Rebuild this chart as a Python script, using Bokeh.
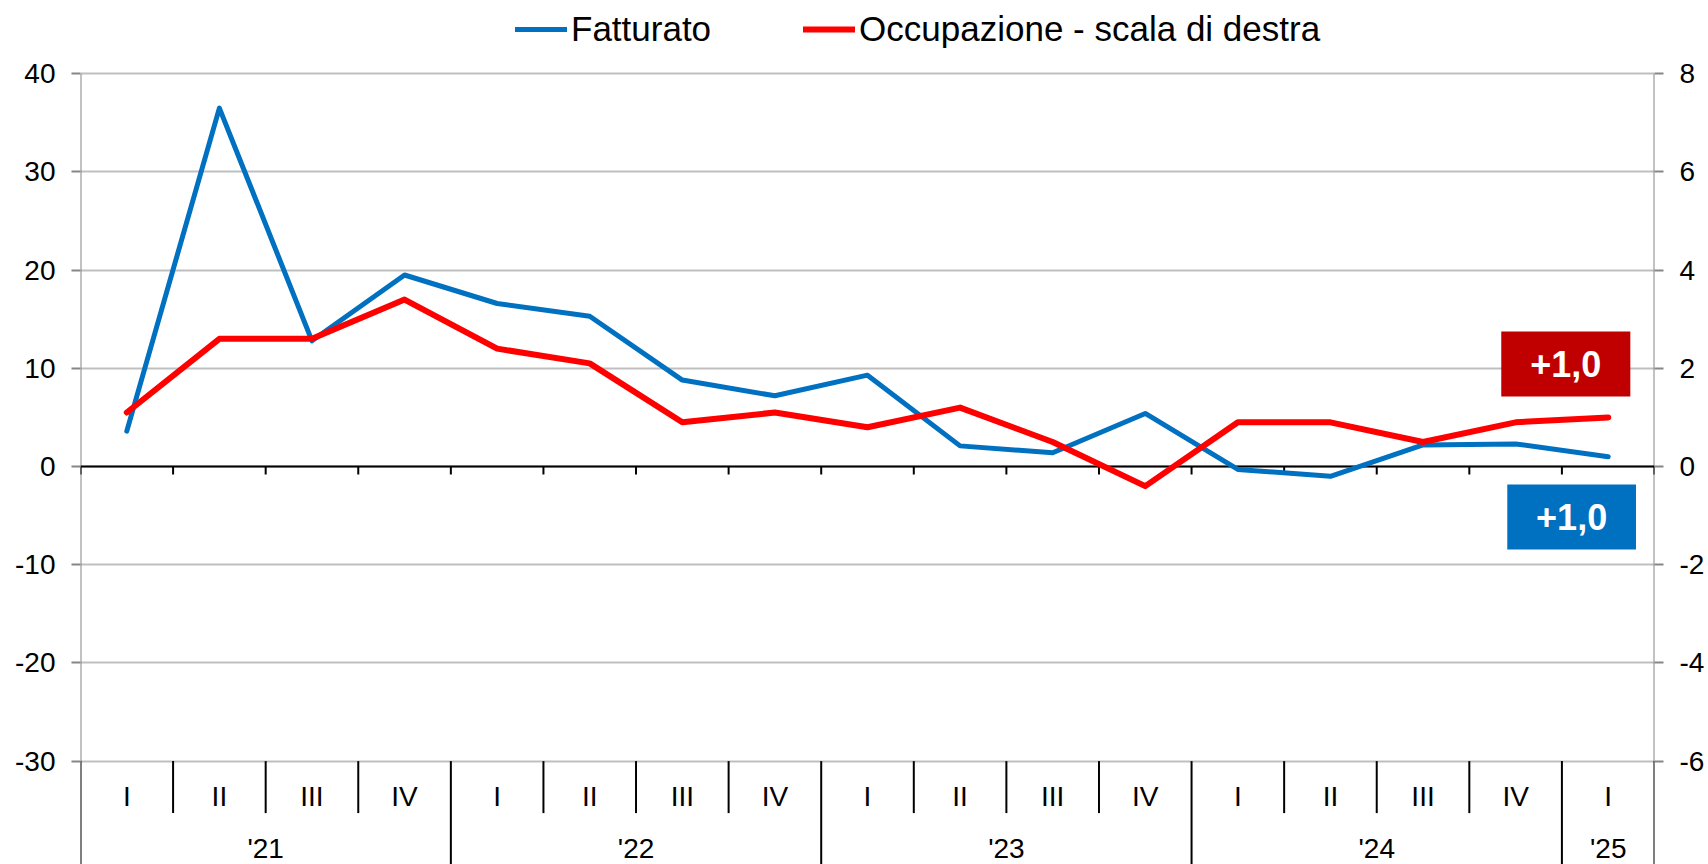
from bokeh.plotting import figure
from bokeh.models import (Range1d, LinearAxis, FixedTicker, ColumnDataSource,
                          Legend, LegendItem, BoxAnnotation, Label, PrintfTickFormatter)
from bokeh.core.properties import value
from bokeh.embed import file_html
from bokeh.resources import INLINE

# ---------------- data ----------------
quarters = ["I", "II", "III", "IV", "I", "II", "III", "IV", "I", "II", "III", "IV",
            "I", "II", "III", "IV", "I"]
years = ["'21", "'22", "'23", "'24", "'25"]
year_sizes = [4, 4, 4, 4, 1]
fatturato = [3.6, 36.5, 12.8, 19.5, 16.6, 15.3, 8.8, 7.2, 9.3, 2.1, 1.4, 5.4,
             -0.3, -1.0, 2.2, 2.3, 1.0]
occupazione = [1.1, 2.6, 2.6, 3.4, 2.4, 2.1, 0.9, 1.1, 0.8, 1.2, 0.5, -0.4,
               0.9, 0.9, 0.5, 0.9, 1.0]
left_ticks = [-30, -20, -10, 0, 10, 20, 30, 40]
right_ticks = [-6, -4, -2, 0, 2, 4, 6, 8]
series_names = ["Fatturato", "Occupazione - scala di destra"]

# ---------------- layout ----------------
W, H = 1708, 864
LEFT, RIGHT = 80, 54
PX = 9.82            # pixels per left-axis unit
ZERO = 466           # zero line, figure pixel coordinate from top
y_top = ZERO / PX
y_bot = -(H - ZERO) / PX
RATIO = 5.0          # left / right scale
FONT = "Liberation Sans"
BLUE = "#0070C0"
RED = "#FF0000"

n = len(quarters)
xs = [i + 0.5 for i in range(n)]

p = figure(width=W, height=H, output_backend="svg", toolbar_location=None,
           x_range=Range1d(0, n), y_range=Range1d(y_bot, y_top),
           x_axis_location=None, min_border_left=LEFT, min_border_right=RIGHT,
           min_border_top=0, min_border_bottom=0, outline_line_color=None,
           background_fill_color="white", border_fill_color="white")
p.extra_y_ranges = {"right": Range1d(y_bot / RATIO, y_top / RATIO)}

p.yaxis[0].ticker = FixedTicker(ticks=left_ticks)
rax = LinearAxis(y_range_name="right", ticker=FixedTicker(ticks=right_ticks))
p.add_layout(rax, "right")
for ax in [p.yaxis[0], rax]:
    ax.formatter = PrintfTickFormatter(format="%d")
    ax.axis_line_color = None
    ax.major_tick_line_color = "#868686"
    ax.major_tick_line_width = 2
    ax.major_tick_out = 9
    ax.major_tick_in = 0
    ax.minor_tick_line_color = None
    ax.major_label_text_font = FONT
    ax.major_label_text_font_size = "28px"
    ax.major_label_text_color = "black"
p.yaxis[0].major_label_standoff = 16
rax.major_label_standoff = 16

p.xgrid.visible = False
p.ygrid.grid_line_color = "#BFBFBF"
p.ygrid.grid_line_width = 2

# axis lines (gray) inside the plotting region
p.segment(x0=[0, n], x1=[0, n], y0=[left_ticks[0]] * 2, y1=[left_ticks[-1]] * 2,
          line_color="#868686", line_width=2)

# category separators below the plot
bounds_year = [0]
for s in year_sizes:
    bounds_year.append(bounds_year[-1] + s)
inner = [b for b in range(n + 1) if b not in bounds_year]
sep_low = left_ticks[0] - 52 / PX
p.segment(x0=inner, x1=inner, y0=[left_ticks[0]] * len(inner), y1=[sep_low] * len(inner),
          line_color="black", line_width=2)
p.segment(x0=bounds_year, x1=bounds_year, y0=[left_ticks[0]] * len(bounds_year),
          y1=[y_bot] * len(bounds_year), line_color="black", line_width=2)

# zero line with ticks
p.segment(x0=[0], x1=[n], y0=[0], y1=[0], line_color="black", line_width=2)
bx = list(range(n + 1))
p.segment(x0=bx, x1=bx, y0=[0] * len(bx), y1=[-8 / PX] * len(bx),
          line_color="black", line_width=2)

# category labels
p.text(x=xs, y=[left_ticks[0] - 35 / PX] * n, text=quarters,
       text_font=value(FONT), text_font_size="28px", text_align="center",
       text_baseline="middle", text_color="black")
year_x = []
for i, s in enumerate(year_sizes):
    year_x.append(bounds_year[i] + s / 2)
p.text(x=year_x, y=[left_ticks[0] - 87 / PX] * len(years), text=years,
       text_font=value(FONT), text_font_size="28px", text_align="center",
       text_baseline="middle", text_color="black")

# data lines
src = ColumnDataSource(dict(x=xs, f=fatturato, o=occupazione))
r1 = p.line("x", "f", source=src, line_color=BLUE, line_width=5,
            line_cap="round", line_join="round")
r2 = p.line("x", "o", source=src, line_color=RED, line_width=6,
            line_cap="round", line_join="round", y_range_name="right")

# value boxes
def fmt(v):
    return ("+" if v >= 0 else "") + f"{v:.1f}".replace(".", ",")

p.add_layout(BoxAnnotation(left=15.345, right=16.739, top=13.75, bottom=7.13,
                           fill_color="#C00000", fill_alpha=1, line_color=None))
p.add_layout(BoxAnnotation(left=15.41, right=16.80, top=-1.83, bottom=-8.45,
                           fill_color=BLUE, fill_alpha=1, line_color=None))
p.add_layout(Label(x=(15.345 + 16.739) / 2, y=(13.75 + 7.13) / 2, text=fmt(occupazione[-1]),
                   text_font=FONT, text_font_size="36px", text_font_style="bold",
                   text_color="white", text_align="center", text_baseline="middle"))
p.add_layout(Label(x=(15.41 + 16.80) / 2, y=(-1.83 - 8.45) / 2, text=fmt(fatturato[-1]),
                   text_font=FONT, text_font_size="36px", text_font_style="bold",
                   text_color="white", text_align="center", text_baseline="middle"))

# legend
legend = Legend(items=[LegendItem(label=series_names[0], renderers=[r1]),
                       LegendItem(label=series_names[1], renderers=[r2])],
                orientation="horizontal", location=(435, 815),
                glyph_width=52, glyph_height=40, label_height=40, label_standoff=4,
                spacing=92, padding=0, margin=0, border_line_color=None,
                background_fill_alpha=0, label_text_font=FONT,
                label_text_font_size="35px", label_text_color="black")
p.add_layout(legend)

open("out.html", "w").write(file_html(p, INLINE))
